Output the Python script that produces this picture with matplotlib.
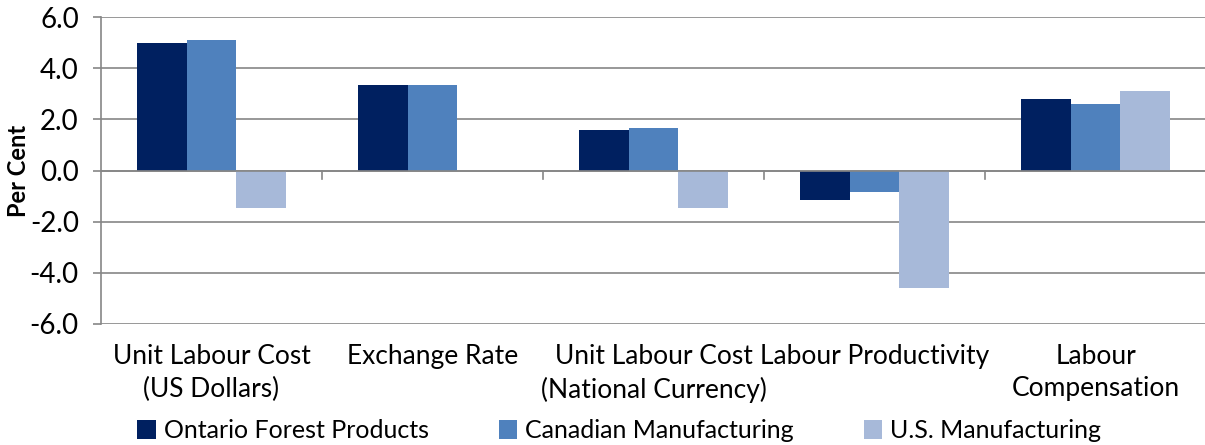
import matplotlib
matplotlib.use('Agg')
import matplotlib.pyplot as plt
import numpy as np

plt.rcParams['font.family'] = ['Lato', 'DejaVu Sans']

categories = ['Unit Labour Cost\n(US Dollars)', 'Exchange Rate',
              'Unit Labour Cost\n(National Currency)', 'Labour Productivity',
              'Labour\nCompensation']
ontario_forest = [5.0, 3.35, 1.6, -1.15, 2.8]
canadian_mfg = [5.1, 3.35, 1.65, -0.85, 2.6]
us_mfg = [-1.45, np.nan, -1.45, -4.6, 3.1]

series = [
    ('Ontario Forest Products', ontario_forest, '#002060'),
    ('Canadian Manufacturing', canadian_mfg, '#4F81BD'),
    ('U.S. Manufacturing', us_mfg, '#A7B9D9'),
]

fig = plt.figure(figsize=(12.05, 4.45), dpi=100)
ax = fig.add_axes([101 / 1205, 1 - 324 / 445, 1105 / 1205, 307 / 445])

x = np.arange(len(categories))
w = 0.224
for i, (name, vals, color) in enumerate(series):
    ax.bar(x + (i - 1) * w, vals, width=w, color=color, label=name, zorder=3)

ax.set_xlim(-0.5, len(categories) - 0.5)
ax.set_ylim(-6, 6)
ax.set_yticks(np.arange(-6, 7, 2))
ax.set_yticklabels([f'{v:.1f}' for v in np.arange(-6, 7, 2)], fontsize=20)
ax.yaxis.grid(True, color='#868686', linewidth=1.2, zorder=0)
ax.tick_params(axis='y', length=6, color='#868686', width=1.2, pad=10)

# category labels sit below the plot, boundary ticks hang off the zero line
ax.set_xticks([])
for k in range(1, len(categories)):
    ax.plot([k - 0.5, k - 0.5], [0, -0.35], color='#868686', lw=1.2, zorder=2)
for k, lab in enumerate(categories):
    ax.text(k, -6.8, lab, ha='center', va='top', fontsize=19,
            linespacing=1.35)

for s in ['top', 'right', 'bottom']:
    ax.spines[s].set_visible(False)
ax.spines['left'].set_color('#868686')
ax.spines['left'].set_linewidth(1.2)
ax.axhline(0, color='#868686', lw=1.2, zorder=4)

ax.set_ylabel('Per Cent', fontsize=17, fontweight='bold')
ax.yaxis.set_label_coords(-0.064, 0.5)

ax.legend(loc='center left', bbox_to_anchor=(0.033, -0.348), ncol=3,
          frameon=False, fontsize=18, handlelength=0.75, handleheight=0.75,
          handletextpad=0.3, columnspacing=2.8, borderaxespad=0,
          borderpad=0)

fig.savefig('out.png', dpi=100)
